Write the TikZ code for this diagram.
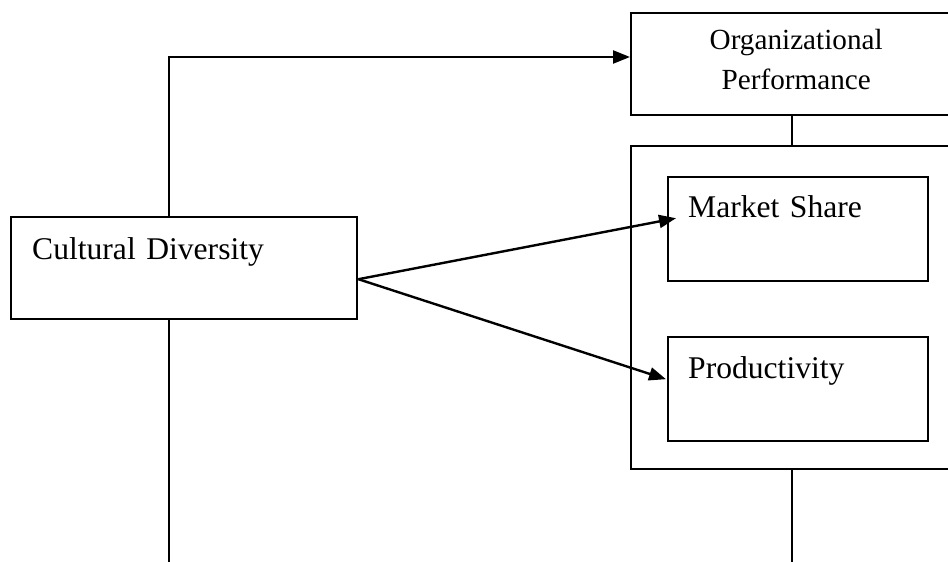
\documentclass[tikz,border=0pt]{standalone}
\usepackage{fontspec}
\setmainfont{Liberation Serif}
\usetikzlibrary{arrows.meta, calc}

\begin{document}
\begin{tikzpicture}[x=0.5pt, y=-0.5pt, line width=1.2pt]
    % Styles
    \tikzstyle{box} = [rectangle, draw, anchor=north west, inner ysep=0pt, align=left, font=\fontsize{15.8}{19}\selectfont]
    \tikzstyle{panel} = [rectangle, draw, anchor=north west, minimum width=165pt, align=center, inner sep=0pt]
    \tikzstyle{arrow} = [draw, -{Triangle[length=8.5pt, width=6.5pt]}]

    \useasboundingbox (0,0) rectangle (948,562);

    % Nodes
    \node[box, inner xsep=10.5pt, text width=152pt, text height=21pt, text depth=30pt] (cd) at (10,216) {Cultural Diversity};
    \node[panel, minimum height=51pt, text width=150pt, text height=10pt, text depth=25pt, font=\fontsize{14.6}{20}\selectfont] (org) at (630,12) {Organizational\\Performance};
    \node[panel, minimum height=161.5pt] (outer) at (630,145) {};
    \node[box, inner xsep=10pt, text width=110pt, text height=20pt, text depth=32pt] (ms) at (667,176) {Market Share};
    \node[box, inner xsep=10pt, text width=110pt, text height=20.5pt, text depth=31.5pt] (prod) at (667,336) {Productivity};

    \coordinate (turn) at (169,57);
    \coordinate (cdend) at (169,562);
    \coordinate (spine) at (792,562);
    \coordinate (fork) at ($(cd.east)+(0,11)$);

    % Edges
    \draw[arrow] (cd.north -| turn) -- (turn) -- (turn -| org.west);
    \draw (cd.south -| turn) -- (cdend);
    \draw (org.south -| spine) -- (outer.north -| spine);
    \draw (outer.south -| spine) -- (spine);
    \draw[arrow] (fork) -- ($(ms.west)+(9,-11)$);
    \draw[arrow] (fork) -- ($(prod.west)+(-1,-10)$);

\end{tikzpicture}
\end{document}
